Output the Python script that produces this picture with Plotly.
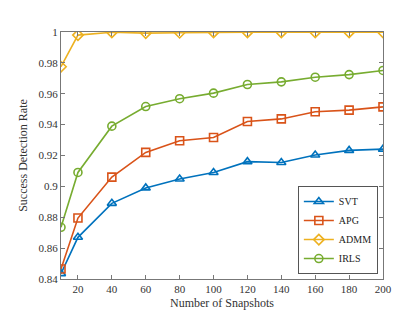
import plotly.graph_objects as go

snapshots = [10, 20, 40, 60, 80, 100, 120, 140, 160, 180, 200]
svt = [0.8435, 0.867, 0.889, 0.899, 0.9048, 0.909, 0.916, 0.9155, 0.9203, 0.9233, 0.9241]
apg = [0.8465, 0.8795, 0.906, 0.922, 0.9296, 0.9317, 0.942, 0.9437, 0.9483, 0.9494, 0.9515]
admm = [0.9775, 0.998, 0.9998, 0.9993, 0.9995, 0.9998, 0.9998, 0.9998, 0.9998, 0.9998, 0.9998]
irls = [0.8735, 0.909, 0.939, 0.9517, 0.9568, 0.9604, 0.966, 0.9677, 0.9707, 0.9724, 0.9751]

series = [
    ("SVT", svt, "#0072BD", "triangle-up-open"),
    ("APG", apg, "#D95319", "square-open"),
    ("ADMM", admm, "#EDB120", "diamond-open"),
    ("IRLS", irls, "#77AC30", "circle-open"),
]

serif = "Liberation Serif, Times New Roman, serif"

fig = go.Figure()
for name, vals, color, sym in series:
    fig.add_trace(go.Scatter(
        x=snapshots, y=vals, name=name, mode="lines+markers",
        line=dict(color=color, width=1.6),
        marker=dict(symbol=sym, size=8, color=color, line=dict(width=1.6, color=color)),
    ))

axis_common = dict(
    showgrid=False, zeroline=False, showline=True, linecolor="#777", linewidth=1,
    mirror="ticks", ticks="inside", ticklen=4, tickcolor="#777",
    tickfont=dict(family=serif, size=11, color="#333"),
)
fig.update_xaxes(range=[10, 200], tickvals=list(range(20, 201, 20)),
                 title=dict(text="Number of Snapshots", font=dict(family=serif, size=12, color="#333"), standoff=4),
                 **axis_common)
fig.update_yaxes(range=[0.84, 1.0], tickvals=[0.84, 0.86, 0.88, 0.9, 0.92, 0.94, 0.96, 0.98, 1.0],
                 ticktext=["0.84", "0.86", "0.88", "0.9", "0.92", "0.94", "0.96", "0.98", "1"],
                 title=dict(text="Success Detection Rate", font=dict(family=serif, size=12, color="#333"), standoff=8),
                 **axis_common)

fig.update_layout(
    width=415, height=312,
    margin=dict(l=53, r=40, t=24, b=35),
    plot_bgcolor="white", paper_bgcolor="white",
    legend=dict(x=0.984, y=0.02, xanchor="right", yanchor="bottom",
                bgcolor="white", bordercolor="#555", borderwidth=1,
                font=dict(family=serif, size=10, color="#222"),
                itemwidth=30, tracegroupgap=0),
)

fig.write_html("out.html")
